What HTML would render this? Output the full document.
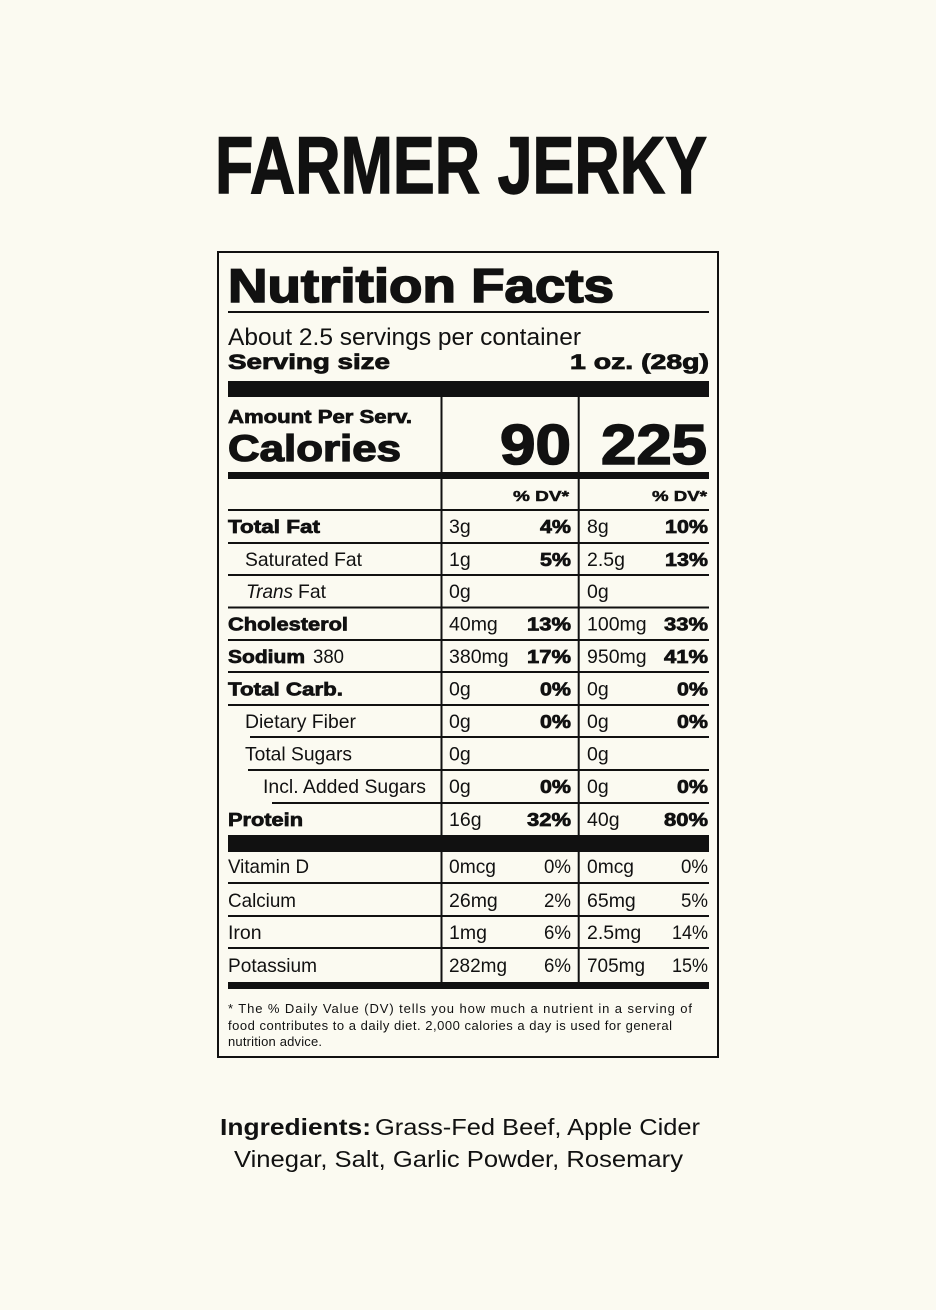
<!DOCTYPE html>
<html>
<head>
<meta charset="utf-8">
<style>
  html,body{margin:0;padding:0;background:#fbfaf1;}
  svg{display:block;}
  text{font-family:"Liberation Sans", Arial, sans-serif;fill:#111;}
  .h{font-weight:700;stroke:#111;}
  .r{font-weight:400;}
</style>
</head>
<body>
<svg width="936" height="1310" viewBox="0 0 936 1310" xmlns="http://www.w3.org/2000/svg">
  <rect x="0" y="0" width="936" height="1310" fill="#fbfaf1"/>

  <!-- Title -->
  <text x="215" y="193" font-size="81" font-weight="700" stroke="#111" stroke-width="1.4" textLength="492" lengthAdjust="spacingAndGlyphs">FARMER JERKY</text>

  <!-- Box -->
  <rect x="218" y="252" width="500" height="805" fill="none" stroke="#111" stroke-width="2"/>

  <text class="h" x="228" y="302" font-size="47" stroke-width="1.6" textLength="386" lengthAdjust="spacingAndGlyphs">Nutrition Facts</text>
  <rect x="228" y="311" width="481" height="2" fill="#111"/>

  <text class="r" x="228" y="345" font-size="24" textLength="353" lengthAdjust="spacingAndGlyphs">About 2.5 servings per container</text>
  <text class="h" x="228" y="369" font-size="21" stroke-width="0.8" textLength="162" lengthAdjust="spacingAndGlyphs">Serving size</text>
  <text class="h" x="709" y="369" font-size="21" stroke-width="0.8" text-anchor="end" textLength="139" lengthAdjust="spacingAndGlyphs">1 oz. (28g)</text>

  <rect x="228" y="381" width="481" height="16" fill="#111"/>

  <!-- vertical column lines -->
  <rect x="440.5" y="397" width="2" height="586" fill="#111"/>
  <rect x="577.7" y="397" width="2" height="586" fill="#111"/>

  <text class="h" x="228" y="423" font-size="18" stroke-width="0.7" textLength="184" lengthAdjust="spacingAndGlyphs">Amount Per Serv.</text>
  <text class="h" x="228" y="461" font-size="37" stroke-width="1.3" textLength="173" lengthAdjust="spacingAndGlyphs">Calories</text>
  <text class="h" x="571" y="464" font-size="57" stroke-width="1.6" text-anchor="end" textLength="71" lengthAdjust="spacingAndGlyphs">90</text>
  <text class="h" x="707" y="464" font-size="57" stroke-width="1.6" text-anchor="end" textLength="106" lengthAdjust="spacingAndGlyphs">225</text>

  <rect x="228" y="472" width="481" height="7" fill="#111"/>

  <text class="h" x="569" y="501" font-size="15" stroke-width="0.5" text-anchor="end" textLength="56" lengthAdjust="spacingAndGlyphs">% DV*</text>
  <text class="h" x="707" y="501" font-size="15" stroke-width="0.5" text-anchor="end" textLength="55" lengthAdjust="spacingAndGlyphs">% DV*</text>

  <!-- row lines -->
  <rect x="228" y="509" width="481" height="2" fill="#111"/>
  <rect x="228" y="542" width="481" height="2" fill="#111"/>
  <rect x="228" y="574" width="481" height="2" fill="#111"/>
  <rect x="228" y="606.5" width="481" height="2" fill="#111"/>
  <rect x="228" y="639" width="481" height="2" fill="#111"/>
  <rect x="228" y="671" width="481" height="2" fill="#111"/>
  <rect x="228" y="704" width="481" height="2" fill="#111"/>
  <rect x="250" y="736" width="459" height="2" fill="#111"/>
  <rect x="248" y="769" width="461" height="2" fill="#111"/>
  <rect x="272" y="802" width="437" height="2" fill="#111"/>

  <!-- Rows -->
  <g font-size="19.5">
    <!-- Total Fat -->
    <text class="h" x="228" y="533" font-size="18" stroke-width="0.7" textLength="92" lengthAdjust="spacingAndGlyphs">Total Fat</text>
    <text class="r" x="449" y="533">3g</text>
    <text class="h" x="571" y="533" font-size="18" stroke-width="0.7" text-anchor="end" textLength="31" lengthAdjust="spacingAndGlyphs">4%</text>
    <text class="r" x="587" y="533">8g</text>
    <text class="h" x="708" y="533" font-size="18" stroke-width="0.7" text-anchor="end" textLength="43" lengthAdjust="spacingAndGlyphs">10%</text>

    <!-- Saturated Fat -->
    <text class="r" x="245" y="566" textLength="117" lengthAdjust="spacingAndGlyphs">Saturated Fat</text>
    <text class="r" x="449" y="566">1g</text>
    <text class="h" x="571" y="566" font-size="18" stroke-width="0.7" text-anchor="end" textLength="31" lengthAdjust="spacingAndGlyphs">5%</text>
    <text class="r" x="587" y="566">2.5g</text>
    <text class="h" x="708" y="566" font-size="18" stroke-width="0.7" text-anchor="end" textLength="43" lengthAdjust="spacingAndGlyphs">13%</text>

    <!-- Trans Fat -->
    <text class="r" x="246" y="598" font-style="italic" textLength="47" lengthAdjust="spacingAndGlyphs">Trans</text>
    <text class="r" x="298" y="598" textLength="28" lengthAdjust="spacingAndGlyphs">Fat</text>
    <text class="r" x="449" y="598">0g</text>
    <text class="r" x="587" y="598">0g</text>

    <!-- Cholesterol -->
    <text class="h" x="228" y="630.5" font-size="18" stroke-width="0.7" textLength="120" lengthAdjust="spacingAndGlyphs">Cholesterol</text>
    <text class="r" x="449" y="630.5">40mg</text>
    <text class="h" x="571" y="630.5" font-size="18" stroke-width="0.7" text-anchor="end" textLength="44" lengthAdjust="spacingAndGlyphs">13%</text>
    <text class="r" x="587" y="630.5">100mg</text>
    <text class="h" x="708" y="630.5" font-size="18" stroke-width="0.7" text-anchor="end" textLength="44" lengthAdjust="spacingAndGlyphs">33%</text>

    <!-- Sodium -->
    <text class="h" x="228" y="663" font-size="18" stroke-width="0.7" textLength="77" lengthAdjust="spacingAndGlyphs">Sodium</text>
    <text class="r" x="313" y="663" textLength="31" lengthAdjust="spacingAndGlyphs">380</text>
    <text class="r" x="449" y="663">380mg</text>
    <text class="h" x="571" y="663" font-size="18" stroke-width="0.7" text-anchor="end" textLength="44" lengthAdjust="spacingAndGlyphs">17%</text>
    <text class="r" x="587" y="663">950mg</text>
    <text class="h" x="708" y="663" font-size="18" stroke-width="0.7" text-anchor="end" textLength="44" lengthAdjust="spacingAndGlyphs">41%</text>

    <!-- Total Carb -->
    <text class="h" x="228" y="695.5" font-size="18" stroke-width="0.7" textLength="115" lengthAdjust="spacingAndGlyphs">Total Carb.</text>
    <text class="r" x="449" y="695.5">0g</text>
    <text class="h" x="571" y="695.5" font-size="18" stroke-width="0.7" text-anchor="end" textLength="31" lengthAdjust="spacingAndGlyphs">0%</text>
    <text class="r" x="587" y="695.5">0g</text>
    <text class="h" x="708" y="695.5" font-size="18" stroke-width="0.7" text-anchor="end" textLength="31" lengthAdjust="spacingAndGlyphs">0%</text>

    <!-- Dietary Fiber -->
    <text class="r" x="245" y="728" textLength="111" lengthAdjust="spacingAndGlyphs">Dietary Fiber</text>
    <text class="r" x="449" y="728">0g</text>
    <text class="h" x="571" y="728" font-size="18" stroke-width="0.7" text-anchor="end" textLength="31" lengthAdjust="spacingAndGlyphs">0%</text>
    <text class="r" x="587" y="728">0g</text>
    <text class="h" x="708" y="728" font-size="18" stroke-width="0.7" text-anchor="end" textLength="31" lengthAdjust="spacingAndGlyphs">0%</text>

    <!-- Total Sugars -->
    <text class="r" x="245" y="760.5" textLength="107" lengthAdjust="spacingAndGlyphs">Total Sugars</text>
    <text class="r" x="449" y="760.5">0g</text>
    <text class="r" x="587" y="760.5">0g</text>

    <!-- Added Sugars -->
    <text class="r" x="263" y="793" textLength="163" lengthAdjust="spacingAndGlyphs">Incl. Added Sugars</text>
    <text class="r" x="449" y="793">0g</text>
    <text class="h" x="571" y="793" font-size="18" stroke-width="0.7" text-anchor="end" textLength="31" lengthAdjust="spacingAndGlyphs">0%</text>
    <text class="r" x="587" y="793">0g</text>
    <text class="h" x="708" y="793" font-size="18" stroke-width="0.7" text-anchor="end" textLength="31" lengthAdjust="spacingAndGlyphs">0%</text>

    <!-- Protein -->
    <text class="h" x="228" y="826" font-size="18" stroke-width="0.7" textLength="75" lengthAdjust="spacingAndGlyphs">Protein</text>
    <text class="r" x="449" y="826">16g</text>
    <text class="h" x="571" y="826" font-size="18" stroke-width="0.7" text-anchor="end" textLength="44" lengthAdjust="spacingAndGlyphs">32%</text>
    <text class="r" x="587" y="826">40g</text>
    <text class="h" x="708" y="826" font-size="18" stroke-width="0.7" text-anchor="end" textLength="44" lengthAdjust="spacingAndGlyphs">80%</text>
  </g>

  <!-- Thick bar before vitamins -->
  <rect x="228" y="835" width="481" height="17" fill="#111"/>

  <!-- vitamin row lines -->
  <rect x="228" y="882" width="481" height="2" fill="#111"/>
  <rect x="228" y="915" width="481" height="2" fill="#111"/>
  <rect x="228" y="947" width="481" height="2" fill="#111"/>

  <g font-size="19.5" class="r">
    <text x="228" y="873" textLength="81" lengthAdjust="spacingAndGlyphs">Vitamin D</text>
    <text x="449" y="873" textLength="47" lengthAdjust="spacingAndGlyphs">0mcg</text>
    <text x="571" y="873" text-anchor="end" textLength="27" lengthAdjust="spacingAndGlyphs">0%</text>
    <text x="587" y="873" textLength="47" lengthAdjust="spacingAndGlyphs">0mcg</text>
    <text x="708" y="873" text-anchor="end" textLength="27" lengthAdjust="spacingAndGlyphs">0%</text>

    <text x="228" y="907" textLength="68" lengthAdjust="spacingAndGlyphs">Calcium</text>
    <text x="449" y="907">26mg</text>
    <text x="571" y="907" text-anchor="end" textLength="27" lengthAdjust="spacingAndGlyphs">2%</text>
    <text x="587" y="907">65mg</text>
    <text x="708" y="907" text-anchor="end" textLength="27" lengthAdjust="spacingAndGlyphs">5%</text>

    <text x="228" y="939">Iron</text>
    <text x="449" y="939">1mg</text>
    <text x="571" y="939" text-anchor="end" textLength="27" lengthAdjust="spacingAndGlyphs">6%</text>
    <text x="587" y="939">2.5mg</text>
    <text x="708" y="939" text-anchor="end" textLength="36" lengthAdjust="spacingAndGlyphs">14%</text>

    <text x="228" y="972" textLength="89" lengthAdjust="spacingAndGlyphs">Potassium</text>
    <text x="449" y="972" textLength="58" lengthAdjust="spacingAndGlyphs">282mg</text>
    <text x="571" y="972" text-anchor="end" textLength="27" lengthAdjust="spacingAndGlyphs">6%</text>
    <text x="587" y="972" textLength="58" lengthAdjust="spacingAndGlyphs">705mg</text>
    <text x="708" y="972" text-anchor="end" textLength="36" lengthAdjust="spacingAndGlyphs">15%</text>
  </g>

  <rect x="228" y="982" width="481" height="7" fill="#111"/>

  <!-- Footnote -->
  <g font-size="13" class="r">
    <text x="228" y="1013" textLength="464" lengthAdjust="spacing">* The % Daily Value (DV) tells you how much a nutrient in a serving of</text>
    <text x="228" y="1030" textLength="444" lengthAdjust="spacing">food contributes to a daily diet. 2,000 calories a day is used for general</text>
    <text x="228" y="1046" textLength="94" lengthAdjust="spacing">nutrition advice.</text>
  </g>

  <!-- Ingredients -->
  <text x="220" y="1135" font-size="23" font-weight="700" textLength="151" lengthAdjust="spacingAndGlyphs">Ingredients:</text>
  <text x="375" y="1135" font-size="23" class="r" textLength="325" lengthAdjust="spacingAndGlyphs">Grass-Fed Beef, Apple Cider</text>
  <text x="234" y="1167" font-size="23" class="r" textLength="449" lengthAdjust="spacingAndGlyphs">Vinegar, Salt, Garlic Powder, Rosemary</text>
</svg>
</body>
</html>
